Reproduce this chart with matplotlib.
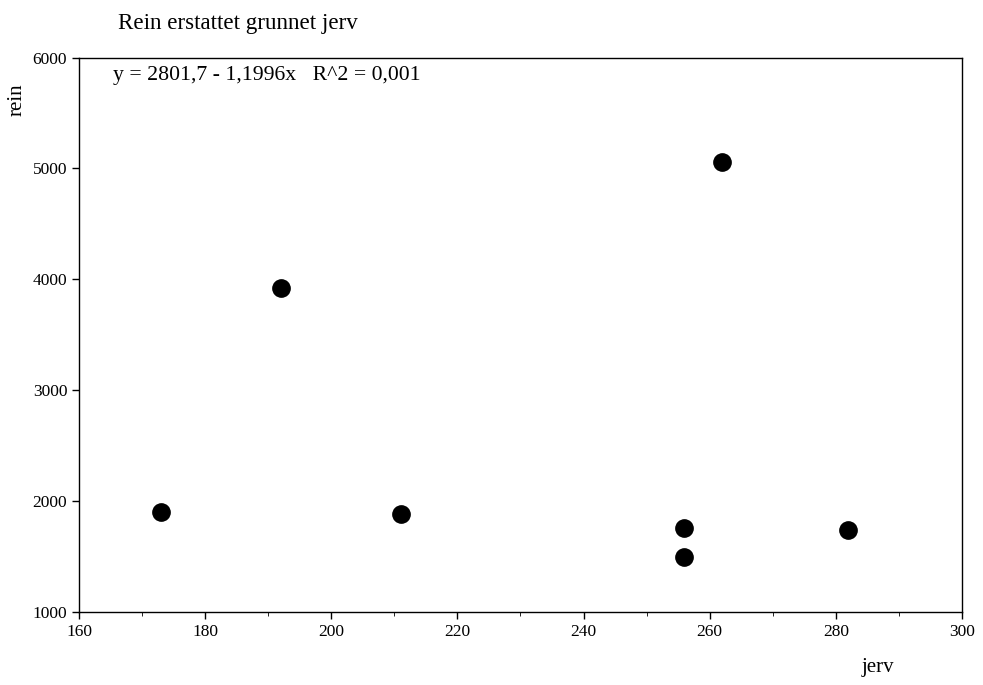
import matplotlib.pyplot as plt
from matplotlib.ticker import MultipleLocator

plt.rcParams['font.family'] = ['Liberation Serif', 'DejaVu Serif']

jerv = [173, 192, 211, 262, 256, 256, 282]
rein = [1900, 3920, 1880, 5060, 1760, 1500, 1740]

fig = plt.figure(figsize=(9.83, 6.85), dpi=100)
ax = fig.add_axes([0.0804, 0.1066, 0.8982, 0.8094])

ax.scatter(jerv, rein, s=155, color="black", zorder=3)

ax.set_xlim(160, 300)
ax.set_ylim(1000, 6000)
ax.xaxis.set_major_locator(MultipleLocator(20))
ax.xaxis.set_minor_locator(MultipleLocator(10))
ax.yaxis.set_major_locator(MultipleLocator(1000))
ax.tick_params(axis="both", which="major", direction="out", length=5, labelsize=12.5, width=1)
ax.tick_params(axis="x", which="minor", direction="out", length=3)
for s in ax.spines.values():
    s.set_linewidth(1)

ax.text(0.038, 0.985, "y = 2801,7 - 1,1996x   R^2 = 0,001", transform=ax.transAxes,
        fontsize=15.7, va="top", ha="left")
fig.text(0.12, 0.966, "Rein erstattet grunnet jerv", fontsize=16.6, ha="left", va="center")
fig.text(0.017, 0.854, "rein", rotation=90, fontsize=15, ha="center", va="center")
fig.text(0.893, 0.025, "jerv", fontsize=15, ha="center", va="center")

fig.savefig("out.png", dpi=100)
